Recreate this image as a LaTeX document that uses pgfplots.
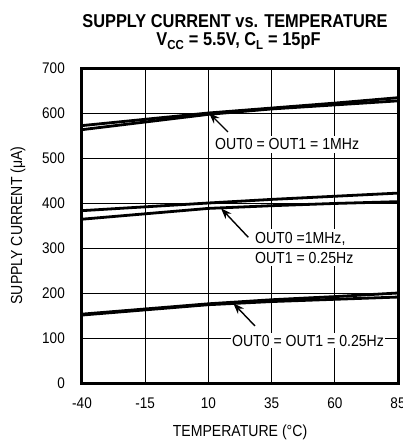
\documentclass[border=0pt]{standalone}
\usepackage{fontspec}
\setmainfont{Liberation Sans}[FakeStretch=0.88]
\usepackage{pgfplots}
\pgfplotsset{compat=1.18}
\usetikzlibrary{arrows.meta}

\begin{document}
\begin{tikzpicture}
\path[use as bounding box] (-82bp,-59bp) rectangle (321bp,383bp);
\begin{axis}[
  at={(0,0)}, anchor=south west,
  scale only axis, width=316bp, height=315bp,
  xmin=-40, xmax=85, ymin=0, ymax=700,
  xtick={-40,-15,10,35,60,85}, ytick={0,100,...,700},
  grid=major, grid style={black, line width=0.8bp},
  major tick length=0pt,
  axis line style={line width=3bp},
  /pgf/number format/assume math mode=true,
  tick label style={font=\fontsize{15.4bp}{18bp}\selectfont},
  xticklabel style={anchor=base, inner sep=0pt, yshift=-25bp},
  yticklabel style={anchor=east, inner sep=0pt, xshift=-17bp},
  label style={font=\fontsize{16bp}{19bp}\selectfont},
  xlabel={TEMPERATURE (°C)},
  ylabel={SUPPLY CURRENT (μA)},
  xlabel style={at={(axis description cs:0.5,-0.1683)}, anchor=base},
  ylabel style={at={(axis description cs:-0.2025,0.5)}, anchor=center},
]
% 1 MHz / 1 MHz
\addplot[black, line width=2.8bp] coordinates {(-40,572) (10,600) (35,611) (60,622) (85,634)};
\addplot[black, line width=2.8bp] coordinates {(-40,563) (10,597) (35,609) (60,618) (85,627)};
% 1 MHz / 0.25 Hz
\addplot[black, line width=2.8bp] coordinates {(-40,383) (10,400) (35,408) (60,415) (85,422)};
\addplot[black, line width=2.8bp] coordinates {(-40,364) (10,388) (35,394) (60,399) (85,403)};
% 0.25 Hz / 0.25 Hz
\addplot[black, line width=2.8bp] coordinates {(-40,153) (10,176) (35,185) (60,192) (85,200)};
\addplot[black, line width=2.8bp] coordinates {(-40,151) (10,174) (35,181) (60,186) (85,191)};

\draw[-{Stealth[length=11bp,width=8bp]}, line width=1.4bp] (axis cs:17.75,557.8) -- (axis cs:10.24,600);
\draw[-{Stealth[length=11bp,width=8bp]}, line width=1.4bp] (axis cs:25.78,323.8) -- (axis cs:14.98,388.2);
\draw[-{Stealth[length=11bp,width=8bp]}, line width=1.4bp] (axis cs:28.43,126.7) -- (axis cs:19.85,177.1);

\node[fill=white, anchor=base west, inner xsep=2bp, inner ysep=3bp, font=\fontsize{16bp}{19bp}\selectfont] at (axis cs:11.8,518) {OUT0 = OUT1 = 1MHz};
\node[fill=white, anchor=base west, inner xsep=2bp, inner ysep=3bp, font=\fontsize{16bp}{19bp}\selectfont] at (axis cs:27.6,310.4) {OUT0 =1MHz,};
\node[fill=white, anchor=base west, inner xsep=2bp, inner ysep=3bp, font=\fontsize{16bp}{19bp}\selectfont] at (axis cs:27.6,266) {OUT1 = 0.25Hz};
\node[fill=white, anchor=base west, inner xsep=1bp, inner ysep=2bp, font=\fontsize{16bp}{19bp}\selectfont] at (axis cs:18.9,82.2) {OUT0 = OUT1 = 0.25Hz};
\end{axis}
\node[anchor=base, font=\fontsize{18.6bp}{22bp}\selectfont\bfseries] at (153bp,355bp) {SUPPLY CURRENT vs. TEMPERATURE};
\node[anchor=base, font=\fontsize{18.6bp}{22bp}\selectfont\bfseries] at (156.5bp,337bp) {V\textsubscript{CC} = 5.5V, C\textsubscript{L} = 15pF};
\end{tikzpicture}
\end{document}
